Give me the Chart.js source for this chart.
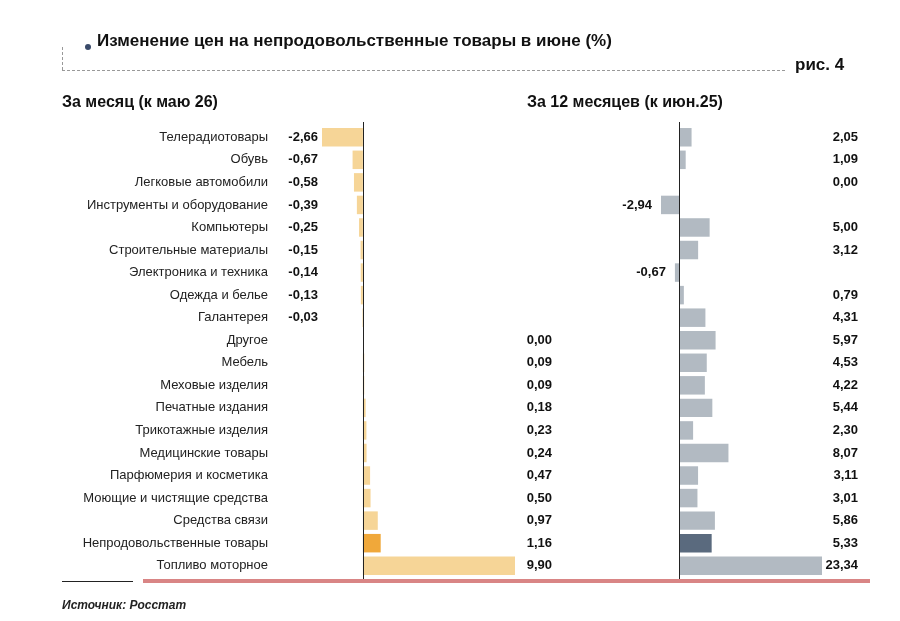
<!DOCTYPE html>
<html><head><meta charset="utf-8">
<script src="https://cdn.jsdelivr.net/npm/chart.js@4/dist/chart.umd.min.js"></script>
<style>
body{margin:0;background:#fff;font-family:"Liberation Sans",Arial,sans-serif;}
#wrap{position:relative;width:900px;height:621px;overflow:hidden;}
canvas{position:absolute;top:0;}
.t{position:absolute;font-weight:bold;color:#111;white-space:nowrap;}
</style></head><body>
<div id="wrap">
<canvas id="c1" width="560" height="621" style="left:0"></canvas>
<canvas id="c2" width="340" height="621" style="left:560px"></canvas>
<div class="t" style="left:97px;top:31px;font-size:17px">Изменение цен на непродовольственные товары в июне (%)</div>
<div class="t" style="left:795px;top:55px;font-size:17px">рис. 4</div>
<div class="t" style="left:62px;top:93px;font-size:16px">За месяц (к маю 26)</div>
<div class="t" style="left:527px;top:93px;font-size:16px">За 12 месяцев (к июн.25)</div>
<div style="position:absolute;left:62px;top:47px;width:0;height:23px;border-left:1px dashed #999"></div>
<div style="position:absolute;left:62px;top:70px;width:723px;height:0;border-top:1px dashed #999"></div>
<div style="position:absolute;left:85px;top:44px;width:6px;height:6px;border-radius:3px;background:#3a4a6a"></div>
<div style="position:absolute;left:62px;top:581px;width:71px;height:1px;background:#222"></div>
<div style="position:absolute;left:143px;top:579px;width:727px;height:4px;background:#d98585"></div>
<div class="t" style="left:62px;top:598px;font-size:12px;font-style:italic;color:#222">Источник: Росстат</div>
</div>
<script>
const categories=["Телерадиотовары","Обувь","Легковые автомобили","Инструменты и оборудование","Компьютеры","Строительные материалы","Электроника и техника","Одежда и белье","Галантерея","Другое","Мебель","Меховые изделия","Печатные издания","Трикотажные изделия","Медицинские товары","Парфюмерия и косметика","Моющие и чистящие средства","Средства связи","Непродовольственные товары","Топливо моторное"];
const monthValues=[-2.66,-0.67,-0.58,-0.39,-0.25,-0.15,-0.14,-0.13,-0.03,0.00,0.09,0.09,0.18,0.23,0.24,0.47,0.50,0.97,1.16,9.90];
const yearValues=[2.05,1.09,0.00,-2.94,5.00,3.12,-0.67,0.79,4.31,5.97,4.53,4.22,5.44,2.30,8.07,3.11,3.01,5.86,5.33,23.34];
const highlight="Непродовольственные товары";
const fmt=v=>v.toFixed(2).replace('.',',');
Chart.defaults.font.family='"Liberation Sans",Arial,sans-serif';
function labelsPlugin(side){return{id:'lbl'+side,afterDatasetsDraw(ch){
 const ctx=ch.ctx,meta=ch.getDatasetMeta(0),xs=ch.scales.x,ca=ch.chartArea;
 const vals=ch.data.datasets[0].data;
 ctx.save();ctx.strokeStyle='#222';ctx.lineWidth=1;
 const z=Math.round(xs.getPixelForValue(0))+0.5;
 ctx.beginPath();ctx.moveTo(z,ca.top-4);ctx.lineTo(z,ca.bottom+2);ctx.stroke();
 ctx.textBaseline='middle';ctx.textAlign='right';
 meta.data.forEach((b,i)=>{const v=vals[i];let x;
  if(side==='L'){
   ctx.font='13px "Liberation Sans",Arial';ctx.fillStyle='#222';
   ctx.fillText(ch.data.labels[i],268,b.y);
   x=v<0?318:552;}else{x=v<0?b.x-9:298;}
  ctx.font='bold 13px "Liberation Sans",Arial';ctx.fillStyle='#111';
  ctx.fillText(fmt(v),x,b.y);});
 ctx.restore();}};}
const colL=categories.map(c=>c===highlight?'#f0a83a':'#f6d597');
const colR=categories.map(c=>c===highlight?'#5a6a7e':'#b2bac2');
new Chart(document.getElementById('c1'),{type:'bar',
 data:{labels:categories,datasets:[{data:monthValues,backgroundColor:colL,barPercentage:0.82,categoryPercentage:1}]},
 options:{indexAxis:'y',responsive:false,animation:false,
  layout:{padding:{top:126,bottom:44,right:45,left:322}},
  plugins:{legend:{display:false},tooltip:{enabled:false}},
  scales:{x:{display:false,min:-2.66,max:9.9},y:{display:false}}},
 plugins:[labelsPlugin('L')]});
new Chart(document.getElementById('c2'),{type:'bar',
 data:{labels:categories,datasets:[{data:yearValues,backgroundColor:colR,barPercentage:0.82,categoryPercentage:1}]},
 options:{indexAxis:'y',responsive:false,animation:false,
  layout:{padding:{top:126,bottom:44,right:78,left:101}},
  plugins:{legend:{display:false},tooltip:{enabled:false}},
  scales:{x:{display:false,min:-2.94,max:23.34},y:{display:false}}},
 plugins:[labelsPlugin('R')]});
</script>
</body></html>
